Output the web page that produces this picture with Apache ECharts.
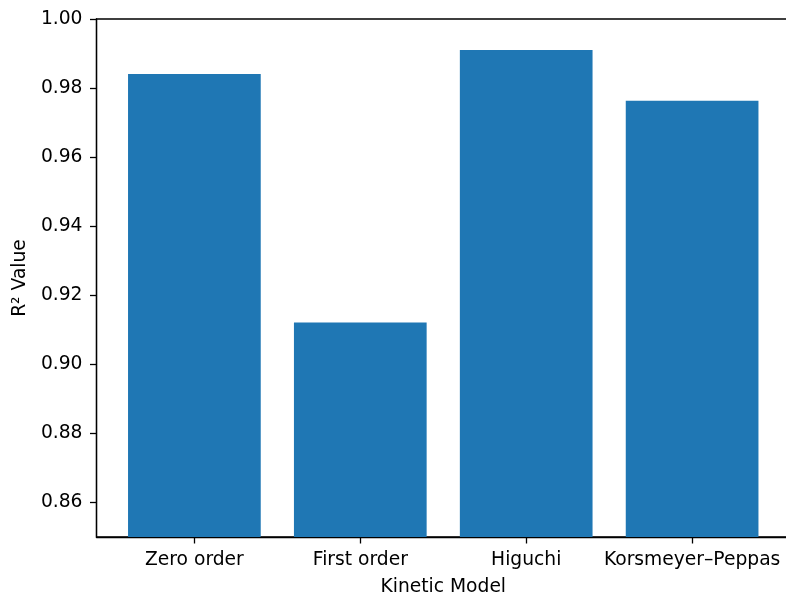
<!DOCTYPE html>
<html>
<head>
<meta charset="utf-8">
<script src="https://cdn.jsdelivr.net/npm/echarts@6/dist/echarts.min.js"></script>
<style>
  html, body { margin: 0; padding: 0; background: #fff; }
  #chart { width: 786px; height: 593px; }
</style>
</head>
<body>
<div id="chart"></div>
<script>
// Kinetic model fit quality (coefficient of determination)
const models = ['Zero order', 'First order', 'Higuchi', 'Korsmeyer\u2013Peppas'];
const r2Values = [0.9841, 0.9121, 0.9910, 0.9763];
const yTicks = [0.86, 0.88, 0.90, 0.92, 0.94, 0.96, 0.98, 1.00];
const xPositions = [0, 1, 2, 3];

const FONT = 'DejaVu Sans';
const FS = 18.7;
const chart = echarts.init(document.getElementById('chart'), null, { renderer: 'canvas' });

chart.setOption({
  animation: false,
  backgroundColor: '#ffffff',
  textStyle: { fontFamily: FONT },
  grid: {
    left: 96.5, top: 19, width: 693.5, height: 518,
    outerBoundsMode: 'none',
    containLabel: false,
    show: true, borderColor: '#000', borderWidth: 1.3, backgroundColor: 'transparent'
  },
  xAxis: {
    type: 'value',
    min: -0.59, max: 3.59,
    name: 'Kinetic Model',
    nameLocation: 'middle',
    nameGap: 41,
    nameTextStyle: { fontFamily: FONT, fontSize: FS, color: '#000' },
    axisLine: { show: true, onZero: false, lineStyle: { color: '#000', width: 1.3 } },
    axisTick: { show: true, length: 6.5, inside: false, customValues: xPositions, lineStyle: { color: '#000', width: 1.3 } },
    axisLabel: {
      customValues: xPositions,
      formatter: v => models[Math.round(v)] || '',
      fontFamily: FONT, fontSize: FS, color: '#000', margin: 14
    },
    splitLine: { show: false }
  },
  yAxis: {
    type: 'value',
    min: 0.85, max: 1.00,
    name: 'R\u00b2 Value',
    nameLocation: 'middle',
    nameGap: 66,
    nameRotate: 90,
    nameTextStyle: { fontFamily: FONT, fontSize: FS, color: '#000' },
    axisLine: { show: true, onZero: false, lineStyle: { color: '#000', width: 1.3 } },
    axisTick: { show: true, length: 6.5, inside: false, customValues: yTicks, lineStyle: { color: '#000', width: 1.3 } },
    axisLabel: {
      customValues: yTicks,
      formatter: v => v.toFixed(2),
      fontFamily: FONT, fontSize: FS, color: '#000', margin: 14
    },
    splitLine: { show: false }
  },
  series: [{
    type: 'bar',
    data: r2Values.map((v, i) => [xPositions[i], v]),
    barWidth: 132.7,
    itemStyle: { color: '#1f77b4' },
    clip: true
  }]
});
</script>
</body>
</html>
